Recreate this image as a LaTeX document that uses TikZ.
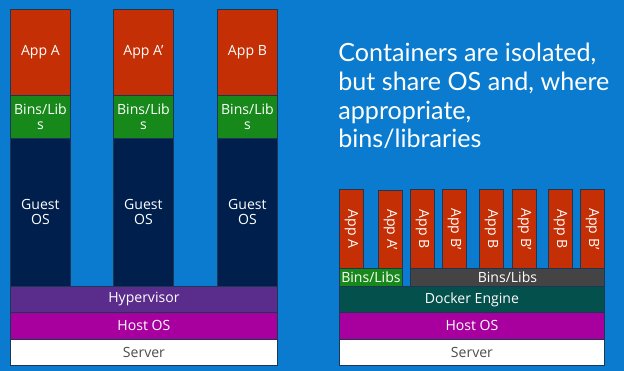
\documentclass[tikz,border=0pt]{standalone}
\usepackage{fontspec}
\setmainfont{Open Sans}
\newfontfamily\titlefont{Lato}
\usepackage{tikz}
\usetikzlibrary{positioning}
\definecolor{slideblue}{HTML}{0A7BCE}
\definecolor{appred}{HTML}{C42F05}
\definecolor{libgreen}{HTML}{17891A}
\definecolor{guestnavy}{HTML}{001F4C}
\definecolor{hypurple}{HTML}{5A2C8C}
\definecolor{hostmag}{HTML}{A8009E}
\definecolor{dockteal}{HTML}{03504C}
\definecolor{libgray}{HTML}{444444}
\definecolor{edgeink}{HTML}{1C3656}

\begin{document}
\begin{tikzpicture}[x=0.02cm,y=-0.02cm,
  font=\fontsize{8}{8.5}\selectfont,text=white,
  blk/.style={draw=edgeink,line width=.5pt,anchor=north west,inner sep=0pt,align=center},
  app/.style={blk,fill=appred},
  libs/.style={blk,fill=libgreen},
  guest/.style={blk,fill=guestnavy},
  layer/.style={blk,minimum height=.52cm},
  capp/.style={app,minimum width=.48cm,minimum height=1.58cm}]
\path[use as bounding box] (0,0) rectangle (624,371);
\fill[slideblue] (0,0) rectangle (624,371);
% virtual machines
\node[app,minimum width=1.2cm,minimum height=1.72cm] (appa) at (10,9) {App A};
\node[app,minimum width=1.2cm,minimum height=1.72cm] (appa2) at (113,9) {App A’};
\node[app,minimum width=1.2cm,minimum height=1.72cm] (appb) at (217,9) {App B};
\node[libs,minimum width=1.2cm,minimum height=.86cm] (liba) at (10,95) {Bins/Lib\\s};
\node[libs,minimum width=1.2cm,minimum height=.86cm] (liba2) at (113,95) {Bins/Lib\\s};
\node[libs,minimum width=1.2cm,minimum height=.86cm] (libb) at (217,95) {Bins/Lib\\s};
\node[guest,minimum width=1.2cm,minimum height=2.96cm] (gosa) at (10,138) {Guest\\OS};
\node[guest,minimum width=1.2cm,minimum height=2.96cm] (gosa2) at (113,138) {Guest\\OS};
\node[guest,minimum width=1.2cm,minimum height=2.96cm] (gosb) at (217,138) {Guest\\OS};
\node[layer,fill=hypurple,minimum width=5.34cm] (hyp) at (10,286) {Hypervisor};
\node[layer,fill=hostmag,minimum width=5.34cm,minimum height=.54cm] (hostl) at (10,312) {Host OS};
\node[layer,fill=white,text=black!70,minimum width=5.34cm] (servl) at (10,339) {Server};
% containers
\node[font=\titlefont\fontsize{14.3}{16.3}\selectfont,anchor=north west,align=left,inner sep=0pt] (claim) at (338,43)
  {Containers are isolated,\\but share OS and, where\\appropriate,\\bins/libraries};
\node[capp] (ca) at (339,189) {};
\node[capp,minimum height=1.56cm] (ca2) at (378,190) {};
\node[capp] (cb1) at (410,189) {};
\node[capp] (cb2) at (442,189) {};
\node[capp] (cb3) at (479,189) {};
\node[capp] (cb4) at (512,189) {};
\node[capp] (cb5) at (548,189) {};
\node[capp] (cb6) at (580,189) {};
\node[rotate=-90] at (ca.center) {App A};
\node[rotate=-90] at (ca2.center) {App A’};
\node[rotate=-90] at (cb1.center) {App B};
\node[rotate=-90] at (cb2.center) {App B’};
\node[rotate=-90] at (cb3.center) {App B};
\node[rotate=-90] at (cb4.center) {App B’};
\node[rotate=-90] at (cb5.center) {App B};
\node[rotate=-90] at (cb6.center) {App B’};
\node[libs,minimum width=1.26cm,minimum height=.36cm] (clibg) at (339,268) {Bins/Libs};
\node[blk,fill=libgray,minimum width=3.88cm,minimum height=.36cm] (clibk) at (410,268) {Bins/Libs};
\node[layer,fill=dockteal,minimum width=5.3cm] (dock) at (339,286) {Docker Engine};
\node[layer,fill=hostmag,minimum width=5.3cm,minimum height=.54cm] (hostr) at (339,312) {Host OS};
\node[layer,fill=white,text=black!70,minimum width=5.3cm] (servr) at (339,339) {Server};
\end{tikzpicture}
\end{document}
